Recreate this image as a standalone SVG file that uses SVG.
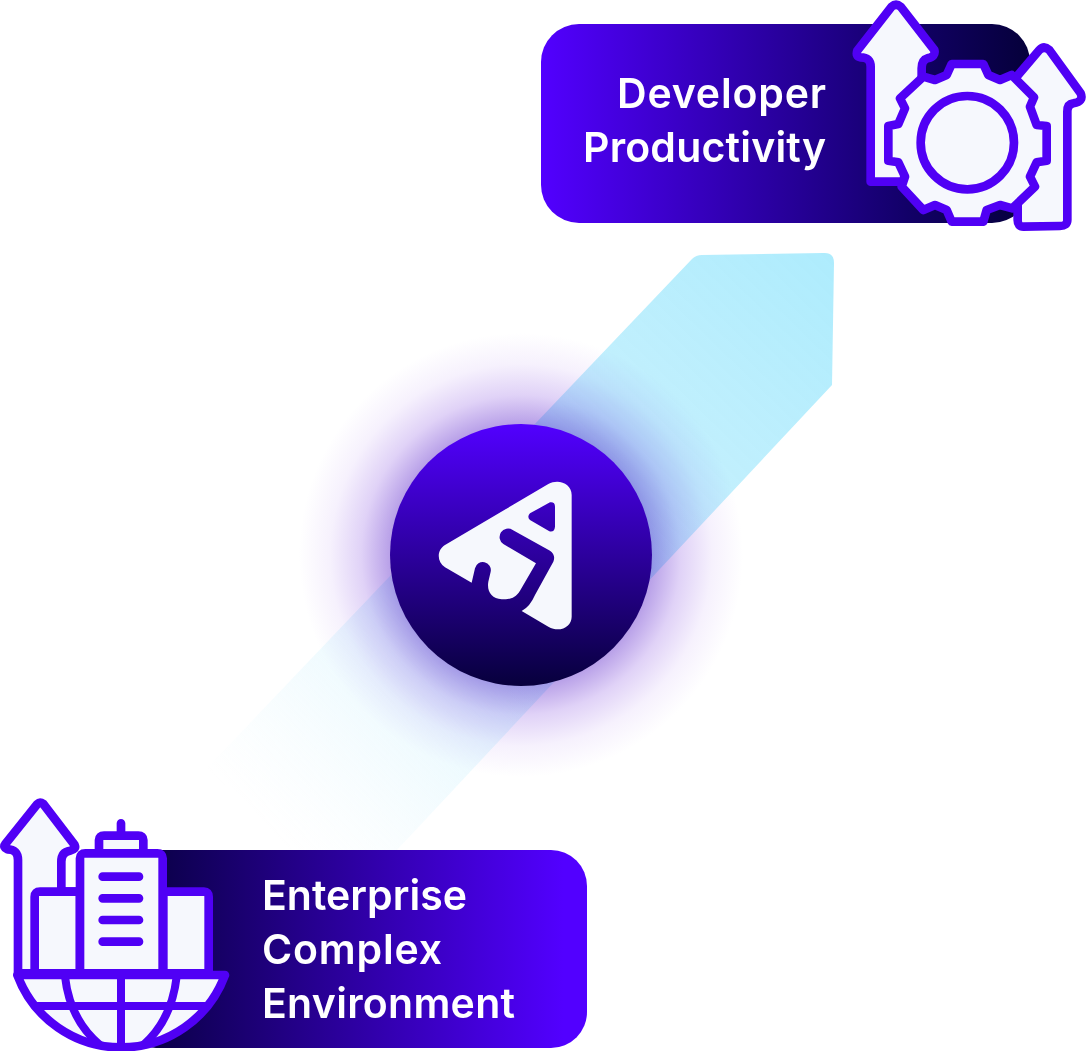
<svg xmlns="http://www.w3.org/2000/svg" width="1086" height="1051" viewBox="0 0 1086 1051">
<defs>
<linearGradient id="barTop" gradientUnits="userSpaceOnUse" x1="541" y1="0" x2="1030" y2="0"><stop offset="0" stop-color="#5200ff"/><stop offset="0.75" stop-color="#120068"/><stop offset="1" stop-color="#05003a"/></linearGradient>
<linearGradient id="barBot" gradientUnits="userSpaceOnUse" x1="120" y1="0" x2="587" y2="0"><stop offset="0" stop-color="#05003a"/><stop offset="0.95" stop-color="#5200ff"/><stop offset="1" stop-color="#5200ff"/></linearGradient>
<linearGradient id="beam" gradientUnits="userSpaceOnUse" x1="830" y1="255" x2="270" y2="830"><stop offset="0" stop-color="#aeecfd"/><stop offset="0.55" stop-color="#c8f0fd" stop-opacity="0.85"/><stop offset="1" stop-color="#e6f8fe" stop-opacity="0"/></linearGradient>
<radialGradient id="glow" gradientUnits="userSpaceOnUse" cx="521" cy="555" r="222"><stop offset="0.59" stop-color="#b8a0e8"/><stop offset="0.72" stop-color="#e0d2f7"/><stop offset="0.86" stop-color="#f6f1fd"/><stop offset="1" stop-color="#ffffff"/></radialGradient>
<linearGradient id="disc" x1="0" y1="0" x2="0" y2="1"><stop offset="0" stop-color="#5200ff"/><stop offset="1" stop-color="#07003c"/></linearGradient>
</defs>
<style>
.t{font-family:"Inter","Liberation Sans",sans-serif;font-weight:600;font-size:41px;fill:#fff}
.i{fill:#f6f8fd;stroke:#5000f5;stroke-width:26;stroke-linejoin:round;stroke-linecap:round}
.l{fill:none;stroke:#5000f5;stroke-width:26;stroke-linecap:round;stroke-linejoin:round}
</style>
<g id="beam-connector">
<path d="M692 259Q696 255 702 255L823 253Q834 252 834 263L832 385L397 850H129Z" fill="url(#beam)"/>
</g>
<g id="hub">
<circle cx="521" cy="555" r="222" fill="url(#glow)" style="mix-blend-mode:multiply"/>
<circle cx="521" cy="555" r="131" fill="url(#disc)"/>
<g transform="translate(420 460) scale(.33333)">
<path fill="#f6f8fd" fill-rule="evenodd" d="M385 72C415 55 455 70 455 105L455 470C455 500 420 520 385 500L305 453Q330 440 345 405L400 305Q408 285 390 272L278 210A25 25 0 0 0 250 252L348 310L300 392C285 418 262 418 245 418C215 416 200 395 205 365L212 335A24 24 0 0 0 165 325L155 368L75 322C50 305 50 270 75 255ZM390 127Q405 125 405 140L405 200Q403 218 388 214L330 180Q320 170 330 160Z"/>
</g>
</g>
<g id="developer-productivity">
<rect x="541" y="24" width="489" height="199" rx="38" fill="url(#barTop)"/>
<text class="t" x="617" y="108" textLength="209">Developer</text>
<text class="t" x="583" y="162" textLength="243">Productivity</text>
<g transform="translate(840 0) scale(.33333)">
<path class="i" d="M190 545L92 545L92 200Q92 172 62 172Q46 170 52 152L155 20Q168 8 182 20L283 150Q288 170 262 175Q245 180 245 205L245 240Z"/>
<path class="i" d="M530 230L598 150Q612 136 628 150L722 280Q732 305 700 310Q682 312 682 335L682 660Q682 678 660 678L550 680Q533 680 533 660L533 600Z"/>
<path class="i" d="M335 192L430 192L445 225L480 240L515 225L582 292L570 320L590 375L620 378L620 482L590 487L570 530L585 560L517 625L480 615L440 630L430 665L335 665L320 630L285 615L250 630L185 560L195 530L175 487L145 482L145 378L175 372L195 325L180 295L250 230L285 240L320 225Z"/>
<circle class="i" cx="382" cy="428" r="140"/>
</g>
</g>
<g id="enterprise-complex-environment">
<rect x="120" y="850" width="467" height="198" rx="36" fill="url(#barBot)"/>
<text class="t" x="262" y="910" textLength="205">Enterprise</text>
<text class="t" x="262" y="964" textLength="180">Complex</text>
<text class="t" x="262" y="1018" textLength="253">Environment</text>
<g transform="translate(0 790) scale(.33333)">
<path class="i" d="M54 550L54 210Q54 178 22 178Q8 172 16 162L112 42Q120 34 130 42L224 165Q230 178 210 182Q184 186 184 215L184 305L240 305L240 550Z"/>
<path class="i" d="M104 550L104 320Q104 305 120 305L240 305L240 550Z"/>
<path class="i" d="M490 305L612 305Q626 305 626 320L626 550L490 550Z"/>
<path class="i" d="M297 190L297 150Q297 137 312 137L415 137Q430 137 430 150L430 190Z"/>
<path class="i" d="M240 550L240 205Q240 190 256 190L472 190Q488 190 488 205L488 550Z"/>
<path class="l" d="M363 100L363 135M308 260H417M308 325H417M308 390H417M308 455H417"/>
<path d="M52 555H675A332 332 0 0 1 52 555Z" fill="#f6f8fd" stroke="#5000f5" stroke-width="26" stroke-linejoin="round"/>
<path d="M195 560Q210 690 300 765M530 560Q515 690 430 765M363 555V770M105 648H620" fill="none" stroke="#5000f5" stroke-width="24"/>
</g>
</g>
</svg>
